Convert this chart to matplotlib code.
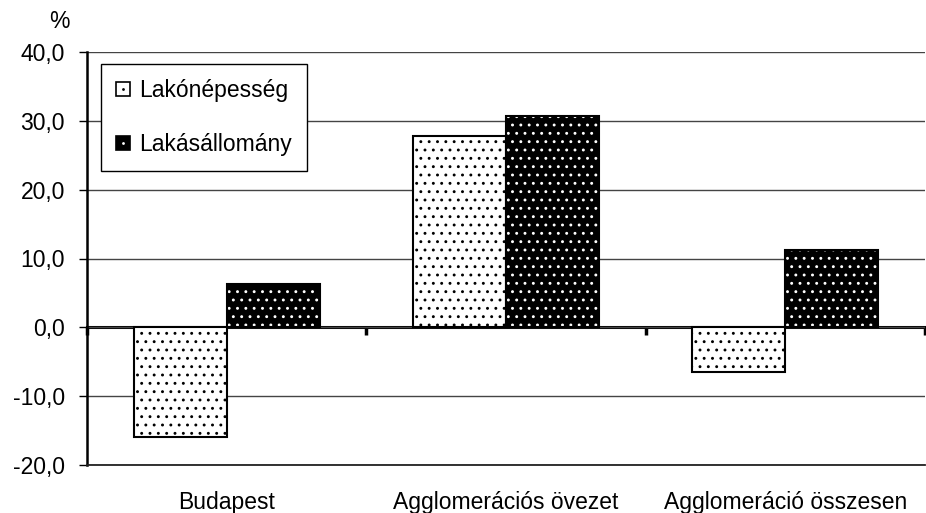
import matplotlib.pyplot as plt
from matplotlib.lines import Line2D
import numpy as np

categories = ["Budapest", "Agglomerációs övezet", "Agglomeráció összesen"]
lakonepesseg = [-16.0, 27.8, -6.5]
lakasallomany = [6.3, 30.7, 11.2]
yticks = [-20, -10, 0, 10, 20, 30, 40]
ytick_labels = ["-20,0", "-10,0", "0,0", "10,0", "20,0", "30,0", "40,0"]

plt.rcParams['font.family'] = ['Liberation Sans', 'DejaVu Sans']
plt.rcParams['hatch.linewidth'] = 0.9

fig = plt.figure(figsize=(9.26, 5.13), dpi=100)
ax = fig.add_axes([87 / 926, 48 / 513, 838 / 926, 413 / 513])

x = np.arange(len(categories))
w = 1 / 3

# Lakónépesség: white with black dots
ax.bar(x - w / 2, lakonepesseg, w, color='white', edgecolor='black',
       hatch='..', linewidth=1.5, zorder=2)
# Lakásállomány: black with white dots
ax.bar(x + w / 2, lakasallomany, w, color='black', edgecolor='white',
       hatch='..', linewidth=0, zorder=2)
ax.bar(x + w / 2, lakasallomany, w, fill=False, edgecolor='black',
       linewidth=1.5, zorder=3)

ax.set_xlim(-0.5, 2.5)
ax.set_ylim(-20, 40)
ax.set_yticks(yticks)
ax.set_yticklabels(ytick_labels, fontsize=16.5)
ax.yaxis.grid(True, color='#444444', linewidth=1)
ax.set_axisbelow(True)
ax.tick_params(axis='y', length=6, width=1, direction='out', pad=10)

ax.set_xticks(x)
ax.set_xticklabels(categories, fontsize=16.5)
ax.tick_params(axis='x', length=0, pad=19)

for s in ['top', 'right']:
    ax.spines[s].set_visible(False)
ax.spines['bottom'].set_color('#222222')
ax.spines['bottom'].set_linewidth(1.3)
ax.spines['left'].set_linewidth(1.8)

# zero axis with category separators
sec = ax.secondary_xaxis(1 / 3)
sec.set_xticks([-0.5, 0.5, 1.5, 2.5])
sec.set_xticklabels([])
sec.tick_params(length=6, width=2.5, direction='out')
sec.spines['bottom'].set_linewidth(2.2)
sec.spines['top'].set_linewidth(2.2)

fig.text(59 / 926, 1 - 22 / 513, "%", fontsize=16.5, ha='center', va='center')

# legend markers: square with a single centred dot
sq1 = Line2D([], [], linestyle='none', marker='s', markersize=10.5,
             markerfacecolor='white', markeredgecolor='black', markeredgewidth=1.2)
dot1 = Line2D([], [], linestyle='none', marker='o', markersize=2,
              markerfacecolor='black', markeredgewidth=0)
sq2 = Line2D([], [], linestyle='none', marker='s', markersize=10.5,
             markerfacecolor='black', markeredgecolor='black', markeredgewidth=1.2)
dot2 = Line2D([], [], linestyle='none', marker='o', markersize=2,
              markerfacecolor='white', markeredgewidth=0)
leg = ax.legend([(sq1, dot1), (sq2, dot2)], ["Lakónépesség", "Lakásállomány"],
                loc='upper left', bbox_to_anchor=(14 / 838, 1 - 12 / 413),
                fontsize=16.5, frameon=True, fancybox=False, framealpha=1,
                edgecolor='black', handlelength=0.66, handleheight=0.66,
                handletextpad=0.36, labelspacing=1.35, borderpad=0.65,
                borderaxespad=0)
leg.get_frame().set_linewidth(1)
leg.set_zorder(5)

fig.savefig("out.png", dpi=100)
